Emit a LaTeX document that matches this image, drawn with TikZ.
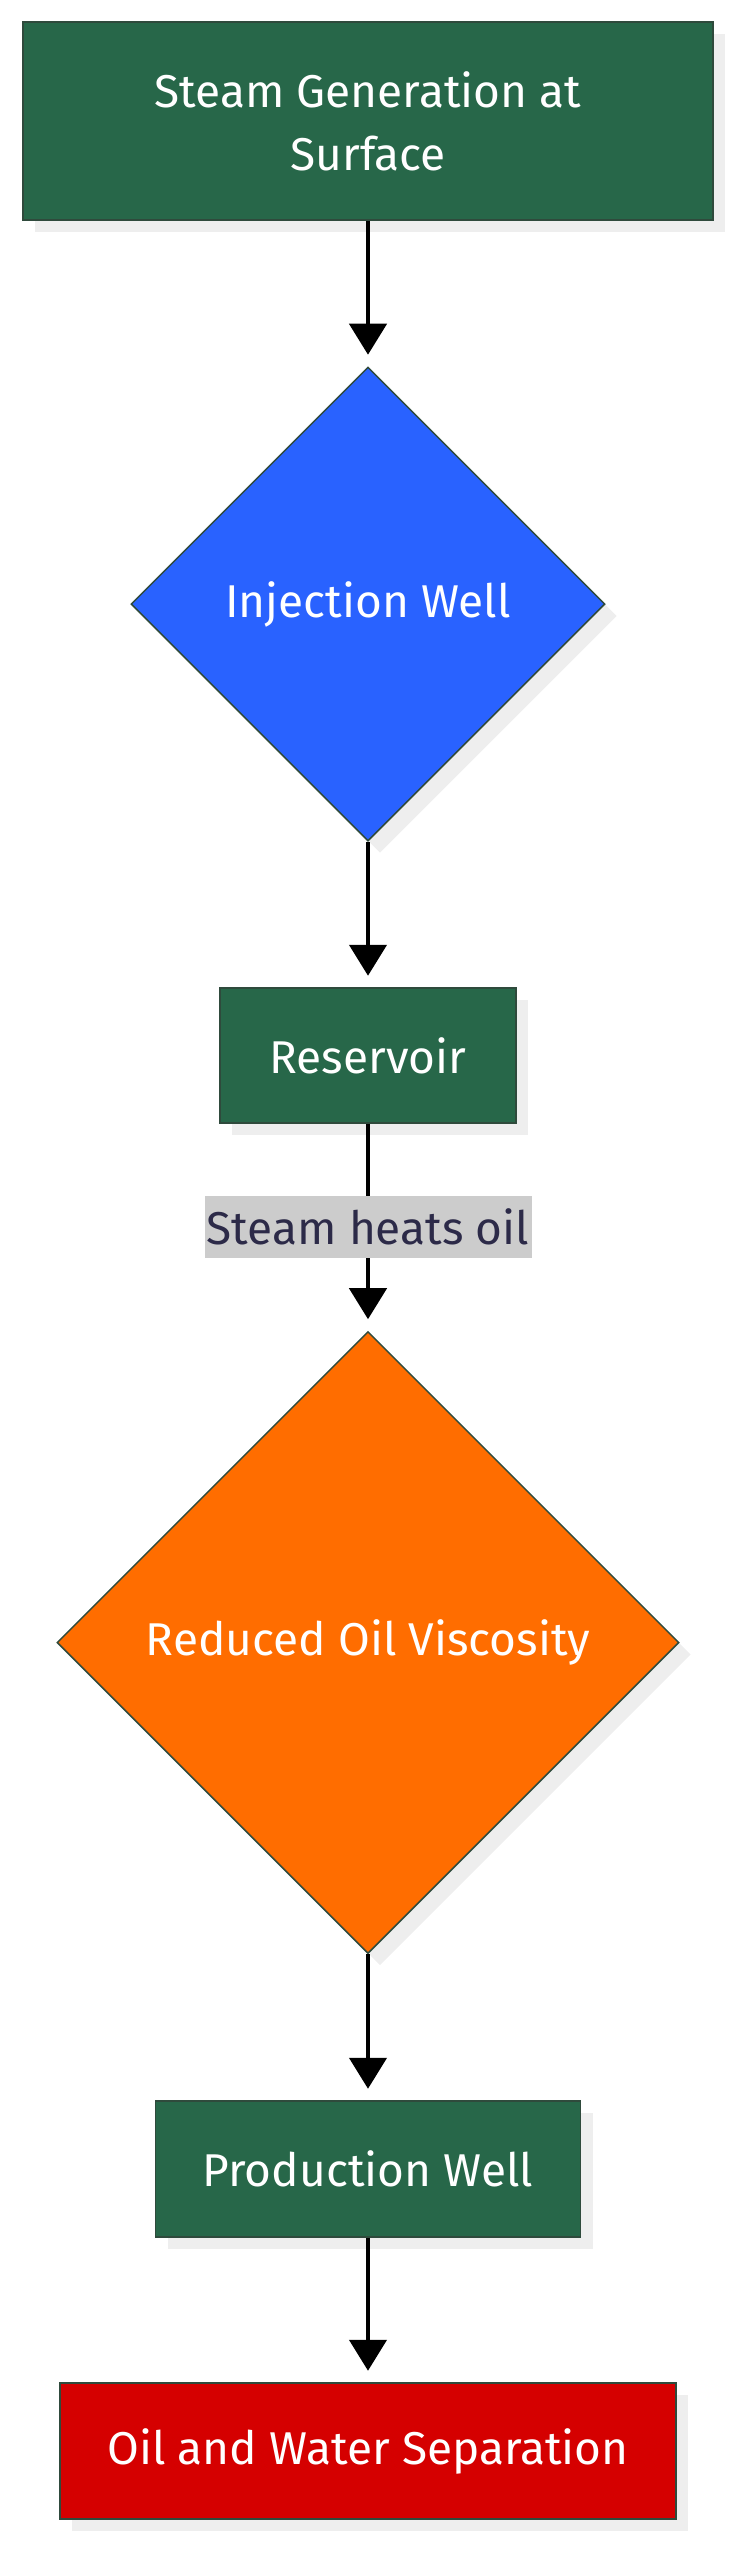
\documentclass[tikz,border=0pt]{standalone}
\usepackage{fontspec}
\setmainfont{Fira Sans}
\usetikzlibrary{shapes.geometric,arrows.meta,shadows}

\definecolor{boxgreen}{HTML}{276749}
\definecolor{wellblue}{HTML}{2962FF}
\definecolor{viscorange}{HTML}{FF6D00}
\definecolor{sepred}{HTML}{D50000}
\definecolor{edgegray}{HTML}{2F4A3C}
\definecolor{labelgray}{HTML}{CCCCCC}
\definecolor{labeltext}{HTML}{2C2A48}
\definecolor{shadowgray}{HTML}{EEEEEE}

\begin{document}
\begin{tikzpicture}[x=0.5pt,y=-0.5pt, font=\fontsize{23}{31.5}\selectfont,
    procbox/.style={draw=edgegray, line width=0.75pt, text=white, inner sep=0pt, align=center,
      drop shadow={shadow xshift=6pt, shadow yshift=-6pt, fill=shadowgray, opacity=1}},
    decide/.style={procbox, diamond, aspect=1},
    flow/.style={-{Triangle[width=18.5pt,length=15.5pt]}, line width=2.25pt, shorten >=5.75pt},
    edgelabel/.style={fill=labelgray, text=labeltext, minimum width=163.5pt, minimum height=31pt, inner sep=0pt}]
      \useasboundingbox (0,0) rectangle (741,2560);

      \node[procbox, fill=boxgreen, minimum width=345pt, minimum height=99pt] (steamgen) at (368,121) {Steam Generation at\\Surface};
      \node[decide, fill=wellblue, minimum width=237pt, minimum height=237pt] (injwell) at (368,604) {Injection Well};
      \node[procbox, fill=boxgreen, minimum width=148pt, minimum height=67.5pt] (reservoir) at (368,1055.5) {Reservoir};
      \node[decide, fill=viscorange, minimum width=311pt, minimum height=311pt] (viscosity) at (368,1642.5) {Reduced Oil Viscosity};
      \node[procbox, fill=boxgreen, minimum width=212.5pt, minimum height=68pt] (prodwell) at (368,2169) {Production Well};
      \node[procbox, fill=sepred, minimum width=308pt, minimum height=68pt] (separation) at (368,2451) {Oil and Water Separation};

      \draw[flow] (steamgen) -- (injwell);
      \draw[flow] (injwell) -- (reservoir);
      \draw[flow] (reservoir) -- node[edgelabel] (heatlabel) {Steam heats oil} (viscosity);
      \draw[flow] (viscosity) -- (prodwell);
      \draw[flow] (prodwell) -- (separation);
    \end{tikzpicture}
\end{document}
